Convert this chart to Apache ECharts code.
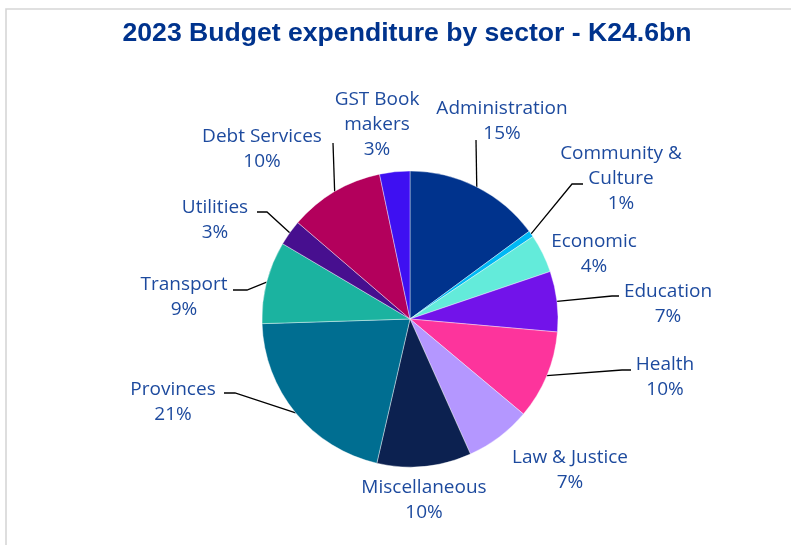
<!DOCTYPE html>
<html>
<head>
<meta charset="utf-8">
<script src="https://cdn.jsdelivr.net/npm/echarts@6/dist/echarts.min.js"></script>
<style>
  html, body { margin: 0; padding: 0; background: #ffffff; }
  #chart { width: 791px; height: 545px; }
</style>
</head>
<body>
<div id="chart"></div>
<script>
// Sector names (as shown on the labels) and their share of the K24.6bn budget
const sectors = [
  'Administration', 'Community &\nCulture', 'Economic', 'Education', 'Health',
  'Law & Justice', 'Miscellaneous', 'Provinces', 'Transport', 'Utilities',
  'Debt Services', 'GST Book\nmakers'
];
const shares = [14.9, 0.7, 4.2, 6.6, 9.7, 7.2, 10.3, 20.9, 9.0, 2.8, 10.4, 3.3];
const sliceColors = [
  '#00338D', '#00B8F5', '#63EBDA', '#7213EA', '#FD349C',
  '#B497FF', '#0C2150', '#006E91', '#1BB3A0', '#470F8F',
  '#B3005C', '#3E10F2'
];

// Label placement: centre of each label block, plus optional leader-line bends
const labelAnchor = [
  [502, 121], [621, 179], [594, 254], [668, 304], [665, 377],
  [570, 470], [424, 500], [173, 402], [184, 297], [215, 220],
  [262, 149], [377, 125]
];
const leaderBends = [
  [[476, 140]],
  [[572, 184], [583, 184]],
  null,
  [[612, 296], [619, 296]],
  [[622, 370], [631, 370]],
  null,
  null,
  [[235, 393], [224, 393]],
  [[247, 290], [233, 290]],
  [[267, 212], [257, 212]],
  [[333, 143]],
  null
];

const total = shares.reduce((a, b) => a + b, 0);
const pieData = sectors.map((name, i) => ({
  name: name,
  value: shares[i],
  itemStyle: { color: sliceColors[i] },
  labelLine: { show: leaderBends[i] !== null }
}));

const chart = echarts.init(document.getElementById('chart'), null, { renderer: 'canvas' });

chart.setOption({
  backgroundColor: '#ffffff',
  animation: false,
  title: {
    text: '2023 Budget expenditure by sector - K24.6bn',
    left: 402,
    top: 15,
    textAlign: 'center',
    textStyle: {
      fontFamily: 'Liberation Sans, Arial, sans-serif',
      fontWeight: 'bold',
      fontSize: 26.6,
      color: '#00338D'
    }
  },
  graphic: [
    {
      type: 'polyline',
      silent: true,
      shape: { points: [[6, 545], [6, 9], [791, 9]] },
      style: { stroke: '#d6d6d6', lineWidth: 1.6, fill: null }
    }
  ],
  series: [
    {
      type: 'pie',
      center: [410, 319],
      radius: 148,
      startAngle: 90,
      clockwise: true,
      avoidLabelOverlap: false,
      data: pieData,
      itemStyle: { borderColor: '#ffffff', borderWidth: 0.4 },
      label: {
        show: true,
        position: 'outside',
        fontFamily: 'Open Sans, sans-serif',
        fontWeight: 'normal',
        fontSize: 19,
        lineHeight: 25,
        color: '#1D4A9E',
        formatter: p => p.name + '\n' + Math.round(p.value / total * 100) + '%'
      },
      labelLine: {
        show: true,
        length: 10,
        length2: 10,
        lineStyle: { color: '#000000', width: 1.3 }
      },
      labelLayout: function (params) {
        const i = params.dataIndex;
        const out = {
          x: labelAnchor[i][0],
          y: labelAnchor[i][1],
          align: 'center',
          verticalAlign: 'middle',
          hideOverlap: false,
          moveOverlap: false
        };
        if (leaderBends[i] && params.labelLinePoints) {
          out.labelLinePoints = [params.labelLinePoints[0]].concat(leaderBends[i]);
        }
        return out;
      }
    }
  ]
});
</script>
</body>
</html>
